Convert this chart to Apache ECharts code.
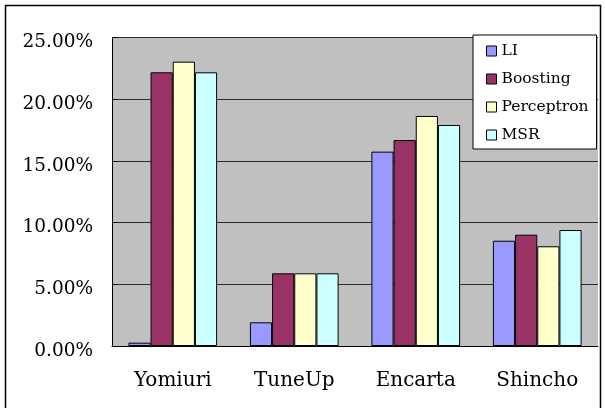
<!DOCTYPE html>
<html>
<head>
<meta charset="utf-8">
<script src="https://cdn.jsdelivr.net/npm/echarts@6/dist/echarts.min.js"></script>
<style>html,body{margin:0;padding:0;background:#fff}#c{width:605px;height:408px}</style>
</head>
<body>
<div id="c"></div>
<script>
var categories = ['Yomiuri', 'TuneUp', 'Encarta', 'Shincho'];
var seriesNames = ['LI', 'Boosting', 'Perceptron', 'MSR'];
var liValues = [0.27, 1.92, 15.75, 8.53];
var boostingValues = [22.18, 5.89, 16.69, 9.02];
var perceptronValues = [23.04, 5.89, 18.64, 8.08];
var msrValues = [22.18, 5.89, 17.91, 9.40];
var yTicks = [0, 5, 10, 15, 20, 25];

var colors = ['#9999FF', '#993366', '#FFFFCC', '#CCFFFF'];
var allValues = [liValues, boostingValues, perceptronValues, msrValues];
var font = '"DejaVu Serif", "Liberation Serif", serif';

var chart = echarts.init(document.getElementById('c'), null, {renderer: 'canvas'});
chart.setOption({
  animation: false,
  backgroundColor: '#fff',
  graphic: [{
    type: 'rect',
    shape: {x: 5.5, y: 5.5, width: 595, height: 420},
    style: {fill: 'none', stroke: '#000', lineWidth: 1.5},
    z: 100, silent: true
  }],
  grid: {
    left: 112, right: 7, top: 37.5, bottom: 62,
    show: true, backgroundColor: '#C0C0C0', borderWidth: 0
  },
  legend: {
    orient: 'vertical',
    left: 473, top: 35,
    backgroundColor: '#fff',
    borderColor: '#000', borderWidth: 1,
    padding: [8, 8, 6, 13],
    itemWidth: 10, itemHeight: 10, itemGap: 12,
    icon: 'rect',
    itemStyle: {borderColor: '#000', borderWidth: 1},
    textStyle: {fontFamily: font, fontSize: 15.5, color: '#000', lineHeight: 16},
    data: seriesNames
  },
  xAxis: {
    type: 'category',
    data: categories,
    axisLine: {lineStyle: {color: '#000', width: 1}},
    axisTick: {inside: true, length: 7, lineStyle: {color: '#000'}},
    axisLabel: {fontFamily: font, fontSize: 20, color: '#000', margin: 25},
    splitLine: {show: false}
  },
  yAxis: {
    type: 'value',
    min: yTicks[0], max: yTicks[yTicks.length - 1], interval: 5,
    axisLine: {show: true, lineStyle: {color: '#000', width: 1}},
    axisTick: {show: true, inside: true, length: 6, lineStyle: {color: '#000'}},
    axisLabel: {
      fontFamily: font, fontSize: 18.5, color: '#000', margin: 19,
      verticalAlign: 'top', lineHeight: 10,
      formatter: function (v) { return v.toFixed(2) + '%'; }
    },
    splitLine: {show: true, lineStyle: {color: '#2a2a2a', width: 1}}
  },
  series: seriesNames.map(function (name, i) {
    return {
      name: name,
      type: 'bar',
      data: allValues[i],
      barGap: '0%',
      barCategoryGap: '27%',
      itemStyle: {color: colors[i], borderColor: '#000', borderWidth: 1}
    };
  })
});
</script>
</body>
</html>
